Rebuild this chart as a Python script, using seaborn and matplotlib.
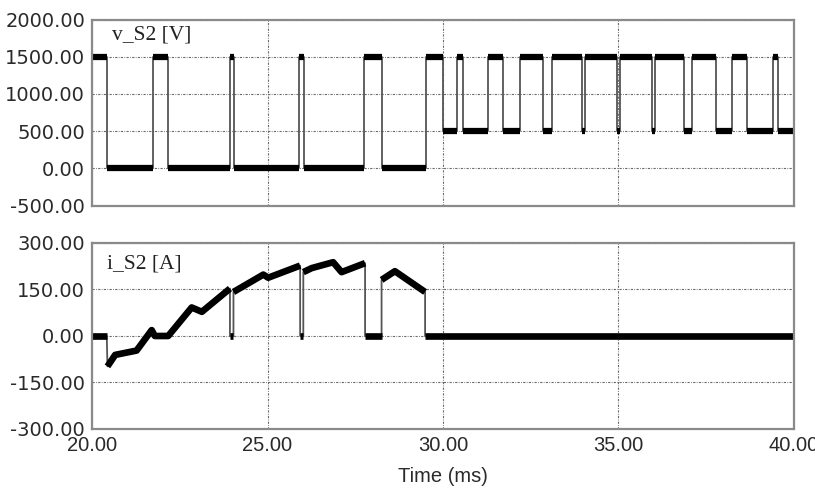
import numpy as np
import pandas as pd
import matplotlib
matplotlib.use("Agg")
import matplotlib.pyplot as plt
import seaborn as sns

# ---------------- data ----------------
# switching voltage v_S2: interval edges (ms) and level held on each interval (V)
v_edges = [20.0, 20.42, 21.73, 22.17, 23.93, 24.05, 25.91, 26.05, 27.76, 28.25,
           29.53, 30.0, 30.39, 30.57, 31.28, 31.71, 32.19, 32.85, 33.10, 33.96,
           34.05, 34.95, 35.04, 35.95, 36.04, 36.86, 37.09, 37.78, 38.23, 38.66,
           39.40, 39.54, 40.0]
v_levels = [1500, 0, 1500, 0, 1500, 0, 1500, 0, 1500, 0,
            1500, 500, 1500, 500, 1500, 500, 1500, 500, 1500, 500,
            1500, 500, 1500, 500, 1500, 500, 1500, 500, 1500, 500,
            1500, 500]

# switch current i_S2: polyline points (ms, A) and the thick-trace segment id of each point
i_time = [20.0, 20.42, 20.44, 20.66, 21.27, 21.70, 21.79, 22.17, 22.84, 23.13,
          23.93, 23.93, 24.03, 24.03, 24.88, 25.02, 25.93, 25.93, 26.02, 26.02,
          26.26, 26.87, 27.11, 27.78, 27.78, 28.25, 28.25, 28.63, 29.49, 29.49, 40.0]
i_amp = [0, 0, -98, -61, -47, 19, 0, 0, 92, 78,
         153, 0, 0, 142, 198, 188, 227, 0, 0, 206,
         219, 238, 206, 235, 0, 0, 181, 209, 142, 0, 0]
i_seg = [0, 0, 1, 1, 1, 1, 1, 1, 1, 1,
         1, 2, 2, 3, 3, 3, 3, 4, 4, 5,
         5, 5, 5, 5, 6, 6, 7, 7, 7, 8, 8]

x_ticks = [20, 25, 30, 35, 40]
v_ticks = [-500, 0, 500, 1000, 1500, 2000]
i_ticks = [-300, -150, 0, 150, 300]
v_label = "v_S2 [V]"
i_label = "i_S2 [A]"
x_label = "Time (ms)"

# ---------------- frames ----------------
step_df = pd.DataFrame({"t": v_edges, "v": v_levels + [v_levels[-1]]})
plat_rows = []
for k, lev in enumerate(v_levels):
    plat_rows.append({"t": v_edges[k], "v": lev, "u": k})
    plat_rows.append({"t": v_edges[k + 1], "v": lev, "u": k})
plat_df = pd.DataFrame(plat_rows)
cur_df = pd.DataFrame({"t": i_time, "i": i_amp, "u": i_seg})

# ---------------- style ----------------
sns.set_theme(style="white")
plt.rcParams["font.family"] = ["DejaVu Sans"]

fig = plt.figure(figsize=(8.15, 4.90), dpi=100)
ax1 = fig.add_axes([0.1129, 0.5806, 0.8613, 0.3796])
ax2 = fig.add_axes([0.1129, 0.1245, 0.8613, 0.3796])

grid_kw = dict(color="#6a6a6a", linewidth=0.8, linestyle=(0, (2.0, 1.2, 0.7, 1.2)))

def frame(ax, yt, fmt_x):
    ax.set_xlim(20, 40)
    ax.set_ylim(yt[0], yt[-1])
    ax.set_xticks(x_ticks)
    ax.set_yticks(yt)
    ax.set_yticklabels([f"{v:.2f}" for v in yt], fontsize=14, color="#2a2a2a")
    if fmt_x:
        ax.set_xticklabels([f"{v:.2f}" for v in x_ticks], fontsize=14.5,
                           color="#2a2a2a", family=["Liberation Sans", "DejaVu Sans"])
    else:
        ax.set_xticklabels([])
    ax.tick_params(length=0, pad=5)
    ax.grid(True, **grid_kw)
    ax.set_axisbelow(True)
    for s in ax.spines.values():
        s.set_color("#8a8a8a")
        s.set_linewidth(1.6)
    ax.set_xlabel("")
    ax.set_ylabel("")

# top: voltage
sns.lineplot(data=step_df, x="t", y="v", ax=ax1, estimator=None, sort=False,
             drawstyle="steps-post", color="#555555", linewidth=1.3)
sns.lineplot(data=plat_df, x="t", y="v", units="u", ax=ax1, estimator=None, sort=False,
             color="black", linewidth=4.5, solid_capstyle="butt")
frame(ax1, v_ticks, False)
ax1.text(0.028, 0.915, v_label, transform=ax1.transAxes, ha="left", va="center",
         fontsize=15.5, family=["Liberation Serif", "DejaVu Serif"], color="#222222")

# bottom: current
sns.lineplot(data=cur_df, x="t", y="i", ax=ax2, estimator=None, sort=False,
             color="#555555", linewidth=1.3)
sns.lineplot(data=cur_df, x="t", y="i", units="u", ax=ax2, estimator=None, sort=False,
             color="black", linewidth=4.8, solid_capstyle="butt", solid_joinstyle="round")
frame(ax2, i_ticks, True)
ax2.text(0.022, 0.885, i_label, transform=ax2.transAxes, ha="left", va="center",
         fontsize=15.5, family=["Liberation Serif", "DejaVu Serif"], color="#222222")
ax2.set_xlabel(x_label, fontsize=14.5, color="#2a2a2a", labelpad=9,
               family=["Liberation Sans", "DejaVu Sans"])

fig.savefig("out.png", dpi=100)
